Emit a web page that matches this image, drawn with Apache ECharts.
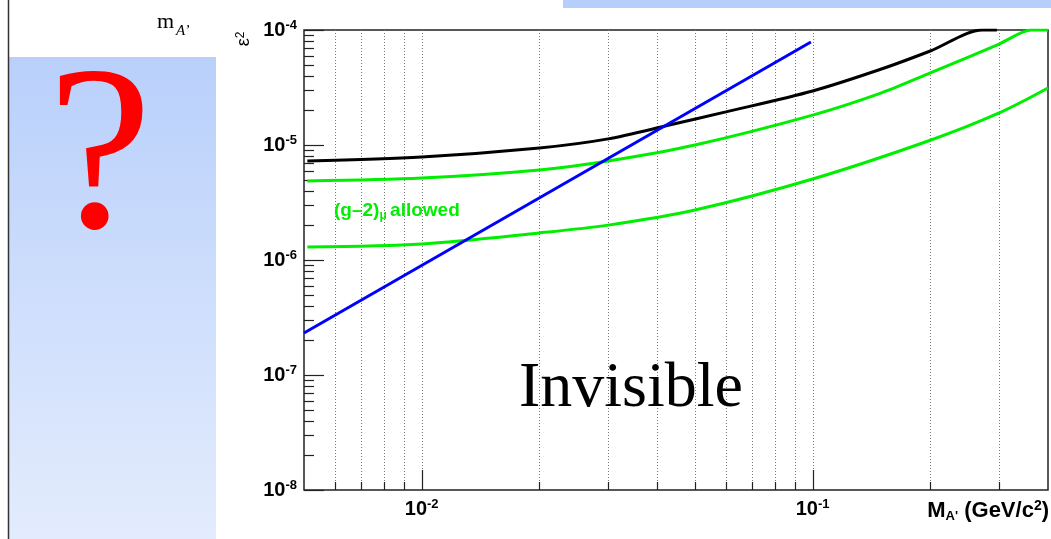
<!DOCTYPE html>
<html><head><meta charset="utf-8">
<script src="https://cdn.jsdelivr.net/npm/echarts@6/dist/echarts.min.js"></script>
<style>html,body{margin:0;padding:0;background:#fff}#c{width:1051px;height:539px}</style>
</head><body><div id="c"></div>
<script>
// axis ranges and tick values
const xRange = [0.005, 0.4];
const yRange = [1e-8, 1e-4];
const xMinorTicks = [0.006,0.007,0.008,0.009,0.02,0.03,0.04,0.05,0.06,0.07,0.08,0.09,0.2,0.3];
const xMajorTicks = [0.01, 0.1];
const yMajorTicks = [1e-8,1e-7,1e-6,1e-5,1e-4];
const yMinorTicks = [2e-8,3e-8,4e-8,5e-8,6e-8,7e-8,8e-8,9e-8,
                     2e-7,3e-7,4e-7,5e-7,6e-7,7e-7,8e-7,9e-7,
                     2e-6,3e-6,4e-6,5e-6,6e-6,7e-6,8e-6,9e-6,
                     2e-5,3e-5,4e-5,5e-5,6e-5,7e-5,8e-5,9e-5];
// curves
const blackX = [0.0051,0.01,0.02,0.03,0.043,0.06,0.1,0.15,0.2,0.272,0.296];
const blackY = [7.26e-6,7.87e-6,9.42e-6,1.13e-5,1.49e-5,1.94e-5,2.95e-5,4.58e-5,6.57e-5,1e-4,1e-4];
const greenUpX = [0.0051,0.01,0.02,0.03,0.05,0.1,0.15,0.2,0.3,0.363,0.4];
const greenUpY = [4.87e-6,5.16e-6,6.07e-6,7.26e-6,1.0e-5,1.82e-5,2.84e-5,4.23e-5,7.55e-5,1e-4,1e-4];
const greenLowX = [0.0051,0.01,0.02,0.03,0.05,0.1,0.2,0.3,0.4];
const greenLowY = [1.30e-6,1.38e-6,1.72e-6,2.01e-6,2.72e-6,5.06e-6,1.10e-5,1.9e-5,3.13e-5];
const blueX = [0.005, 0.099];
const blueY = [2.32e-7, 7.87e-5];

const pairs = (xs, ys) => xs.map((x, i) => [x, ys[i]]);
const SANS = 'Liberation Sans';

function powLabel(v) {
  const l = Math.log10(v), e = Math.round(l);
  if (Math.abs(l - e) > 1e-6) return '';
  return '{b|10}{s|' + e + '}';
}
const powRich = {
  b: {fontSize: 20, fontWeight: 'bold', fontFamily: SANS, color: '#000', lineHeight: 22},
  s: {fontSize: 13, fontWeight: 'bold', fontFamily: SANS, color: '#000', lineHeight: 14, verticalAlign: 'top'}
};

const chart = echarts.init(document.getElementById('c'), null, {renderer: 'canvas'});
const lineSeries = (data, color, width) => ({
  type: 'line', data, showSymbol: false, symbol: 'none', smooth: 0.3,
  lineStyle: {color, width}, z: 5, silent: true
});

chart.setOption({
  animation: false,
  backgroundColor: '#fff',
  grid: {left: 304, right: 3, top: 30, bottom: 49, show: true, borderColor: '#222', borderWidth: 1.5},
  xAxis: {
    type: 'log', logBase: 10, min: xRange[0], max: xRange[1],
    axisLine: {show: false}, axisTick: {show: false}, splitLine: {show: false},
    axisLabel: {formatter: powLabel, rich: powRich, margin: 8}
  },
  yAxis: {
    type: 'log', logBase: 10, min: yRange[0], max: yRange[1],
    axisLine: {show: false}, axisTick: {show: false}, splitLine: {show: false},
    axisLabel: {formatter: powLabel, rich: powRich, margin: 7}
  },
  graphic: [
    {type: 'line', shape: {x1: 8.5, y1: 0, x2: 8.5, y2: 539}, style: {stroke: '#333', lineWidth: 1.5}, z: 10},
    {type: 'rect', shape: {x: 9, y: 57, width: 207, height: 482}, z: 1,
     style: {fill: new echarts.graphic.LinearGradient(0, 0, 0, 1, [{offset: 0, color: '#b9d0fb'}, {offset: 1, color: '#e3ecfd'}])}},
    {type: 'rect', shape: {x: 563, y: 0, width: 488, height: 8}, style: {fill: '#b5cefb'}, z: 1},
    {type: 'text', x: 100, y: 165, z: 20,
     style: {text: '?', font: '235px "Liberation Serif"', fill: '#ff0000', align: 'center', verticalAlign: 'middle'}},
    {type: 'text', x: 157, y: 22, z: 20,
     style: {text: 'm', font: '22px "Liberation Serif"', fill: '#000', align: 'left', verticalAlign: 'middle'}},
    {type: 'text', x: 176, y: 31, z: 20,
     style: {text: 'A\u2019', font: 'italic 15px "Liberation Serif"', fill: '#000', align: 'left', verticalAlign: 'middle'}},
    {type: 'text', x: 244, y: 39, rotation: Math.PI / 2, z: 20,
     style: {text: '{e|\u03b5}{s|2}', align: 'center', verticalAlign: 'middle',
       rich: {e: {fontSize: 18, fontFamily: SANS, fill: '#000', lineHeight: 19},
              s: {fontSize: 12, fontFamily: SANS, fill: '#000', lineHeight: 12, verticalAlign: 'top'}}}},
    {type: 'text', x: 1049, y: 511, z: 20,
     style: {text: '{b|M}{sub|A\'}{b| (GeV/c}{sup|2}{b|)}', align: 'right', verticalAlign: 'middle',
       rich: {b: {fontSize: 22, fontWeight: 'bold', fontFamily: SANS, fill: '#000', lineHeight: 24},
              sub: {fontSize: 13, fontWeight: 'bold', fontFamily: SANS, fill: '#000', lineHeight: 13, verticalAlign: 'bottom'},
              sup: {fontSize: 14, fontWeight: 'bold', fontFamily: SANS, fill: '#000', lineHeight: 14, verticalAlign: 'top'}}}},
    {type: 'text', x: 334, y: 211, z: 20,
     style: {text: '{g|(g\u20132)}{mu|\u03bc }{g|allowed}', align: 'left', verticalAlign: 'middle',
       rich: {g: {fontSize: 19, fontWeight: 'bold', fontFamily: SANS, fill: '#00ee00', lineHeight: 22},
              mu: {fontSize: 12, fontWeight: 'bold', fontFamily: SANS, fill: '#00ee00', lineHeight: 12, verticalAlign: 'bottom'}}}},
    {type: 'text', x: 631, y: 389, z: 20,
     style: {text: 'Invisible', font: '64px "Liberation Serif"', fill: '#000', align: 'center', verticalAlign: 'middle'}}
  ],
  series: [
    {
      type: 'custom', coordinateSystem: 'cartesian2d', silent: true, z: 1, clip: false,
      data: xMinorTicks.map(v => [v, yRange[0], 0]).concat(xMajorTicks.map(v => [v, yRange[0], 1])),
      renderItem(params, api) {
        const v = api.value(0), k = api.value(2);
        const b = api.coord([v, yRange[0]]), t = api.coord([v, yRange[1]]);
        const x = Math.round(b[0]) + 0.5;
        return {type: 'group', children: [
          {type: 'line', shape: {x1: x, y1: t[1], x2: x, y2: b[1]}, style: {stroke: '#777', lineWidth: 1, lineDash: [1, 2]}},
          {type: 'line', shape: {x1: x, y1: b[1], x2: x, y2: b[1] - (k ? 20 : 8)}, style: {stroke: '#222', lineWidth: 1.2}}
        ]};
      }
    },
    {
      type: 'custom', coordinateSystem: 'cartesian2d', silent: true, z: 2, clip: false,
      data: yMinorTicks.map(v => [xRange[0], v, 0]).concat(yMajorTicks.map(v => [xRange[0], v, 1])),
      renderItem(params, api) {
        const v = api.value(1), k = api.value(2);
        const p = api.coord([xRange[0], v]);
        const y = Math.round(p[1]) + 0.5;
        return {type: 'line', shape: {x1: p[0], y1: y, x2: p[0] + (k ? 20 : 10), y2: y},
                style: {stroke: '#222', lineWidth: 1.2}};
      }
    },
    lineSeries(pairs(blackX, blackY), '#000000', 3),
    lineSeries(pairs(greenUpX, greenUpY), '#00ee00', 3),
    lineSeries(pairs(greenLowX, greenLowY), '#00ee00', 3),
    lineSeries(pairs(blueX, blueY), '#0000ff', 3)
  ]
});
</script></body></html>
